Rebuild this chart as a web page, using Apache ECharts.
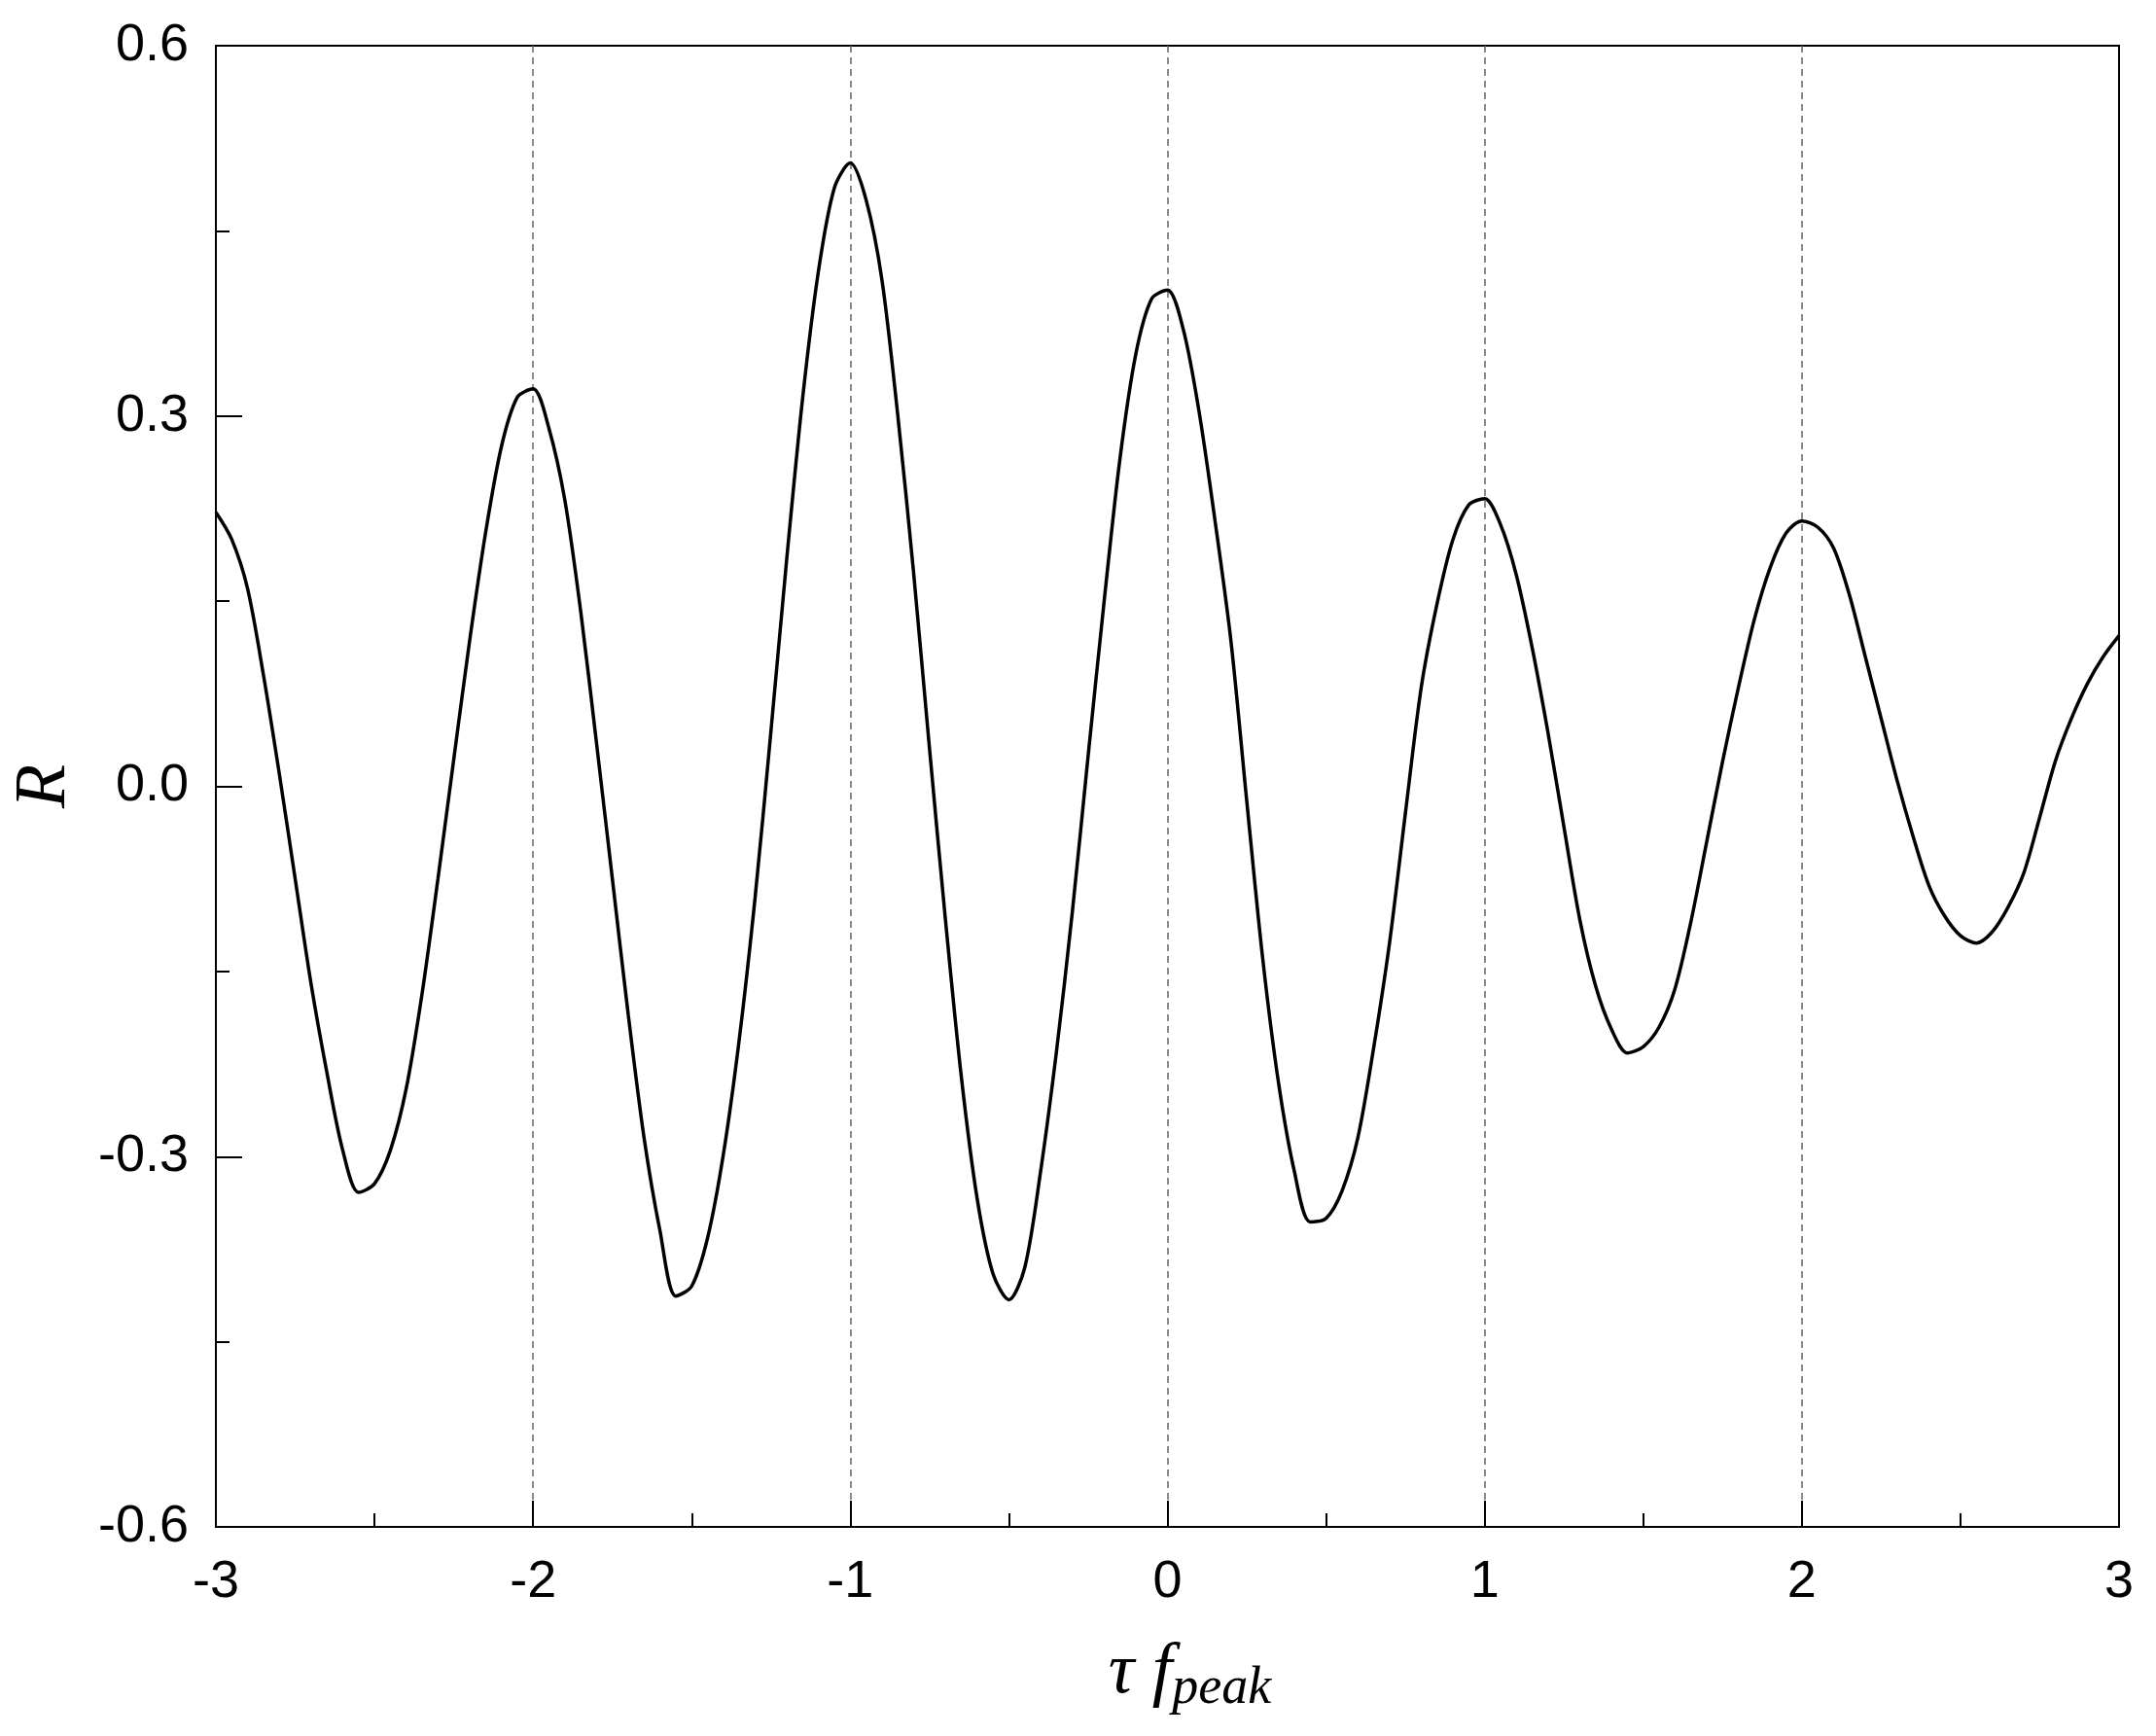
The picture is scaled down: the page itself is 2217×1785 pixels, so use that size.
<!DOCTYPE html>
<html>
<head>
<meta charset="utf-8">
<script src="https://cdn.jsdelivr.net/npm/echarts@6/dist/echarts.min.js"></script>
<style>
  html, body { margin: 0; padding: 0; background: #fff; }
  #chart { width: 2217px; height: 1785px; }
</style>
</head>
<body>
<div id="chart"></div>
<script>
// tau * f_peak, sampled every 0.05
const tauF = [
  -3.00, -2.95, -2.90, -2.85, -2.80, -2.75, -2.70, -2.65, -2.60, -2.55,
  -2.50, -2.45, -2.40, -2.35, -2.30, -2.25, -2.20, -2.15, -2.10, -2.05,
  -2.00, -1.95, -1.90, -1.85, -1.80, -1.75, -1.70, -1.65, -1.60, -1.55,
  -1.50, -1.45, -1.40, -1.35, -1.30, -1.25, -1.20, -1.15, -1.10, -1.05,
  -1.00, -0.95, -0.90, -0.85, -0.80, -0.75, -0.70, -0.65, -0.60, -0.55,
  -0.50, -0.45, -0.40, -0.35, -0.30, -0.25, -0.20, -0.15, -0.10, -0.05,
  0.00, 0.05, 0.10, 0.15, 0.20, 0.25, 0.30, 0.35, 0.40, 0.45,
  0.50, 0.55, 0.60, 0.65, 0.70, 0.75, 0.80, 0.85, 0.90, 0.95,
  1.00, 1.05, 1.10, 1.15, 1.20, 1.25, 1.30, 1.35, 1.40, 1.45,
  1.50, 1.55, 1.60, 1.65, 1.70, 1.75, 1.80, 1.85, 1.90, 1.95,
  2.00, 2.05, 2.10, 2.15, 2.20, 2.25, 2.30, 2.35, 2.40, 2.45,
  2.50, 2.55, 2.60, 2.65, 2.70, 2.75, 2.80, 2.85, 2.90, 2.95,
  3.00
];
// correlation coefficient R
const rValues = [
  0.222, 0.200, 0.160, 0.090, 0.010, -0.075, -0.160, -0.232, -0.295, -0.329,
  -0.322, -0.295, -0.245, -0.168, -0.075, 0.022, 0.118, 0.205, 0.275, 0.315,
  0.322, 0.290, 0.232, 0.142, 0.035, -0.075, -0.185, -0.285, -0.360, -0.413,
  -0.405, -0.366, -0.298, -0.205, -0.090, 0.045, 0.185, 0.315, 0.418, 0.485,
  0.505, 0.475, 0.410, 0.300, 0.172, 0.030, -0.108, -0.235, -0.334, -0.395,
  -0.416, -0.390, -0.312, -0.215, -0.102, 0.025, 0.149, 0.265, 0.350, 0.395,
  0.402, 0.370, 0.303, 0.215, 0.118, -0.012, -0.139, -0.240, -0.312, -0.353,
  -0.350, -0.328, -0.285, -0.212, -0.127, -0.022, 0.080, 0.148, 0.200, 0.228,
  0.233, 0.212, 0.171, 0.112, 0.043, -0.033, -0.108, -0.162, -0.197, -0.216,
  -0.211, -0.195, -0.164, -0.110, -0.045, 0.020, 0.080, 0.135, 0.177, 0.205,
  0.215, 0.210, 0.193, 0.155, 0.105, 0.055, 0.005, -0.040, -0.080, -0.105,
  -0.121, -0.127, -0.118, -0.098, -0.070, -0.025, 0.021, 0.055, 0.083, 0.105,
  0.122
];

const xTicks = [-3, -2, -1, 0, 1, 2, 3];
const yTicks = [-0.6, -0.3, 0.0, 0.3, 0.6];

const labelFont = 'Liberation Sans, Arial, sans-serif';
const nameFont = 'Liberation Serif, Times New Roman, serif';

const chart = echarts.init(document.getElementById('chart'));

const option = {
  animation: false,
  backgroundColor: '#fff',
  grid: {
    left: 222,
    right: 38,
    top: 47,
    bottom: 215,
    show: true,
    borderColor: '#000',
    borderWidth: 2
  },
  xAxis: {
    type: 'value',
    min: xTicks[0],
    max: xTicks[xTicks.length - 1],
    interval: 1,
    axisLine: { show: true, onZero: false, lineStyle: { color: '#000', width: 2 } },
    axisTick: { show: true, inside: true, length: 27, lineStyle: { color: '#000', width: 2 } },
    minorTick: { show: true, splitNumber: 2, length: 14, lineStyle: { color: '#000', width: 2 } },
    axisLabel: {
      color: '#000',
      fontFamily: labelFont,
      fontSize: 54,
      margin: 30,
      formatter: v => String(v)
    },
    splitLine: {
      show: true,
      showMinLine: false,
      showMaxLine: false,
      lineStyle: { color: '#666', width: 1.5, type: [7, 5] }
    },
    name: '{a|τ f}{b|peak}',
    nameLocation: 'middle',
    nameGap: 78,
    nameTextStyle: {
      color: '#000',
      rich: {
        a: { fontFamily: nameFont, fontStyle: 'italic', fontSize: 74, lineHeight: 80, verticalAlign: 'top', padding: [0, 0, 0, 46] },
        b: { fontFamily: nameFont, fontStyle: 'italic', fontSize: 54, lineHeight: 54, verticalAlign: 'bottom', padding: [51, 0, 0, 0] }
      }
    }
  },
  yAxis: {
    type: 'value',
    min: yTicks[0],
    max: yTicks[yTicks.length - 1],
    interval: 0.3,
    axisLine: { show: true, onZero: false, lineStyle: { color: '#000', width: 2 } },
    axisTick: { show: true, inside: true, length: 27, lineStyle: { color: '#000', width: 2 } },
    minorTick: { show: true, splitNumber: 2, length: 14, lineStyle: { color: '#000', width: 2 } },
    axisLabel: {
      color: '#000',
      fontFamily: labelFont,
      fontSize: 54,
      margin: 28,
      formatter: v => (Math.abs(v) < 1e-9 ? 0 : v).toFixed(1)
    },
    splitLine: { show: false },
    name: 'R',
    nameLocation: 'middle',
    nameGap: 138,
    nameTextStyle: {
      color: '#000',
      fontFamily: nameFont,
      fontStyle: 'italic',
      fontSize: 74
    }
  },
  series: [
    {
      type: 'line',
      data: tauF.map((t, i) => [t, rValues[i]]),
      showSymbol: false,
      smooth: 0.3,
      lineStyle: { color: '#000', width: 3.5 },
      clip: true
    }
  ]
};

chart.setOption(option);
window.addEventListener('resize', () => chart.resize());
</script>
</body>
</html>
